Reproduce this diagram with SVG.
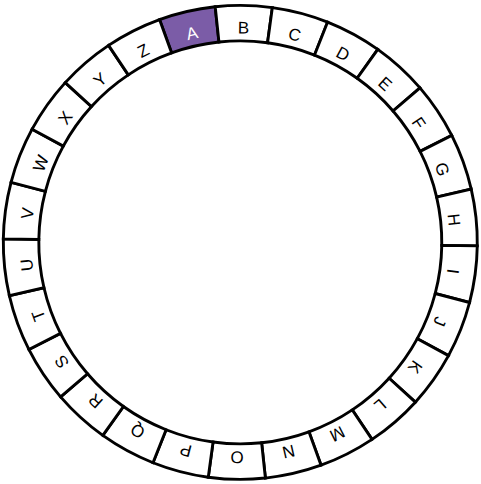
<svg xmlns="http://www.w3.org/2000/svg" xmlns:xlink="http://www.w3.org/1999/xlink" width="481" height="484" viewBox="0 0 481 484">
<style>
.seg{fill:#ffffff;stroke:#000000;stroke-width:2.9;stroke-linejoin:miter}
.seg.hl{fill:#7b5ca7}
.lbl{font-family:"Liberation Sans",Arial,sans-serif;font-size:17px;fill:#000000;text-anchor:middle}
.lbl.hl{fill:#ffffff}
</style>
<defs>
<path id="sector" d="M211.73 7.13 A237 237 0 0 1 268.87 7.13 L264.59 42.37 A201.5 201.5 0 0 0 216.01 42.37 Z"/>
</defs>
<rect width="481" height="484" fill="#ffffff"/>
<g id="wheel">
<g id="seg-A" transform="rotate(-13 240.3 242.4)"><use xlink:href="#sector" href="#sector" class="seg hl"/><text class="lbl hl" x="240.3" y="33.5">A</text></g>
<g id="seg-B" transform="rotate(0.846 240.3 242.4)"><use xlink:href="#sector" href="#sector" class="seg"/><text class="lbl" x="240.3" y="33.5">B</text></g>
<g id="seg-C" transform="rotate(14.692 240.3 242.4)"><use xlink:href="#sector" href="#sector" class="seg"/><text class="lbl" x="240.3" y="33.5">C</text></g>
<g id="seg-D" transform="rotate(28.538 240.3 242.4)"><use xlink:href="#sector" href="#sector" class="seg"/><text class="lbl" x="240.3" y="33.5">D</text></g>
<g id="seg-E" transform="rotate(42.385 240.3 242.4)"><use xlink:href="#sector" href="#sector" class="seg"/><text class="lbl" x="240.3" y="33.5">E</text></g>
<g id="seg-F" transform="rotate(56.231 240.3 242.4)"><use xlink:href="#sector" href="#sector" class="seg"/><text class="lbl" x="240.3" y="33.5">F</text></g>
<g id="seg-G" transform="rotate(70.077 240.3 242.4)"><use xlink:href="#sector" href="#sector" class="seg"/><text class="lbl" x="240.3" y="33.5">G</text></g>
<g id="seg-H" transform="rotate(83.923 240.3 242.4)"><use xlink:href="#sector" href="#sector" class="seg"/><text class="lbl" x="240.3" y="33.5">H</text></g>
<g id="seg-I" transform="rotate(97.769 240.3 242.4)"><use xlink:href="#sector" href="#sector" class="seg"/><text class="lbl" x="240.3" y="33.5">I</text></g>
<g id="seg-J" transform="rotate(111.615 240.3 242.4)"><use xlink:href="#sector" href="#sector" class="seg"/><text class="lbl" x="240.3" y="33.5">J</text></g>
<g id="seg-K" transform="rotate(125.462 240.3 242.4)"><use xlink:href="#sector" href="#sector" class="seg"/><text class="lbl" x="240.3" y="33.5">K</text></g>
<g id="seg-L" transform="rotate(139.308 240.3 242.4)"><use xlink:href="#sector" href="#sector" class="seg"/><text class="lbl" x="240.3" y="33.5">L</text></g>
<g id="seg-M" transform="rotate(153.154 240.3 242.4)"><use xlink:href="#sector" href="#sector" class="seg"/><text class="lbl" x="240.3" y="33.5">M</text></g>
<g id="seg-N" transform="rotate(167 240.3 242.4)"><use xlink:href="#sector" href="#sector" class="seg"/><text class="lbl" x="240.3" y="33.5">N</text></g>
<g id="seg-O" transform="rotate(180.846 240.3 242.4)"><use xlink:href="#sector" href="#sector" class="seg"/><text class="lbl" x="240.3" y="33.5">O</text></g>
<g id="seg-P" transform="rotate(194.692 240.3 242.4)"><use xlink:href="#sector" href="#sector" class="seg"/><text class="lbl" x="240.3" y="33.5">P</text></g>
<g id="seg-Q" transform="rotate(208.538 240.3 242.4)"><use xlink:href="#sector" href="#sector" class="seg"/><text class="lbl" x="240.3" y="33.5">Q</text></g>
<g id="seg-R" transform="rotate(222.385 240.3 242.4)"><use xlink:href="#sector" href="#sector" class="seg"/><text class="lbl" x="240.3" y="33.5">R</text></g>
<g id="seg-S" transform="rotate(236.231 240.3 242.4)"><use xlink:href="#sector" href="#sector" class="seg"/><text class="lbl" x="240.3" y="33.5">S</text></g>
<g id="seg-T" transform="rotate(250.077 240.3 242.4)"><use xlink:href="#sector" href="#sector" class="seg"/><text class="lbl" x="240.3" y="33.5">T</text></g>
<g id="seg-U" transform="rotate(263.923 240.3 242.4)"><use xlink:href="#sector" href="#sector" class="seg"/><text class="lbl" x="240.3" y="33.5">U</text></g>
<g id="seg-V" transform="rotate(277.769 240.3 242.4)"><use xlink:href="#sector" href="#sector" class="seg"/><text class="lbl" x="240.3" y="33.5">V</text></g>
<g id="seg-W" transform="rotate(291.615 240.3 242.4)"><use xlink:href="#sector" href="#sector" class="seg"/><text class="lbl" x="240.3" y="33.5">W</text></g>
<g id="seg-X" transform="rotate(305.462 240.3 242.4)"><use xlink:href="#sector" href="#sector" class="seg"/><text class="lbl" x="240.3" y="33.5">X</text></g>
<g id="seg-Y" transform="rotate(319.308 240.3 242.4)"><use xlink:href="#sector" href="#sector" class="seg"/><text class="lbl" x="240.3" y="33.5">Y</text></g>
<g id="seg-Z" transform="rotate(333.154 240.3 242.4)"><use xlink:href="#sector" href="#sector" class="seg"/><text class="lbl" x="240.3" y="33.5">Z</text></g>
</g>
</svg>
